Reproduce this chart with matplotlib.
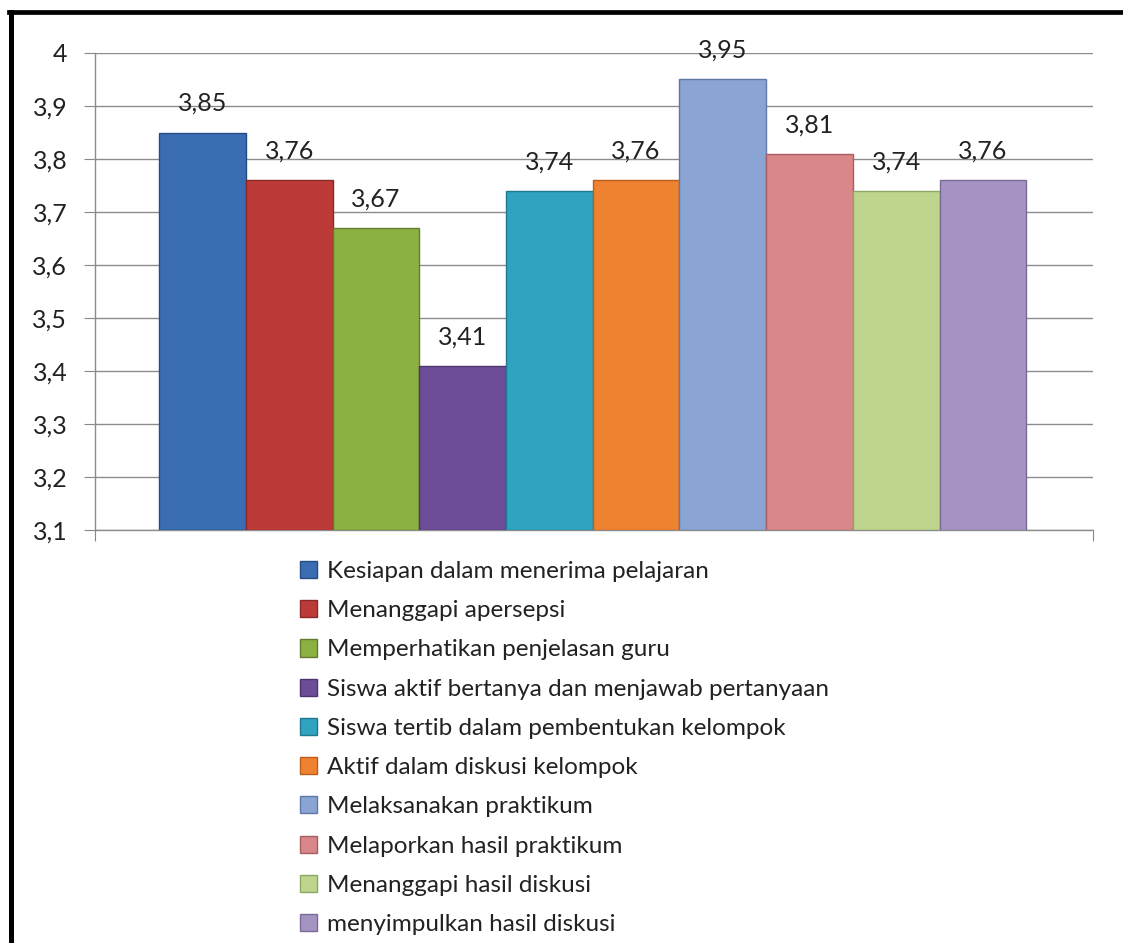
import matplotlib
matplotlib.use("Agg")
import matplotlib.pyplot as plt
import matplotlib.patches as mpatches
from matplotlib.lines import Line2D
from matplotlib.ticker import FuncFormatter

# ── data ──────────────────────────────────────────────────────────────────
categories = [
    "Kesiapan dalam menerima pelajaran",
    "Menanggapi apersepsi",
    "Memperhatikan penjelasan guru",
    "Siswa aktif bertanya dan menjawab pertanyaan",
    "Siswa tertib dalam pembentukan kelompok",
    "Aktif dalam diskusi kelompok",
    "Melaksanakan praktikum",
    "Melaporkan hasil praktikum",
    "Menanggapi hasil diskusi",
    "menyimpulkan hasil diskusi",
]
values = [3.85, 3.76, 3.67, 3.41, 3.74, 3.76, 3.95, 3.81, 3.74, 3.76]
y_ticks = [3.1, 3.2, 3.3, 3.4, 3.5, 3.6, 3.7, 3.8, 3.9, 4.0]

colors = ['#3A6DB2', '#BC3B39', '#8DB043', '#6D4D98', '#30A3C0',
          '#EE8230', '#8AA5D4', '#D98789', '#BDD58C', '#A593C2']
edges = ['#254D85', '#8A2826', '#627C2C', '#4B3470', '#1F7890',
         '#B85E1C', '#5F78A8', '#A85E60', '#8EA866', '#7A6A98']

plt.rcParams['font.family'] = ['Lato', 'DejaVu Sans']

W, H = 1123, 943
fig = plt.figure(figsize=(W / 100, H / 100), dpi=100)
fig.patch.set_facecolor('white')

ax = fig.add_axes([95 / W, 1 - 530 / H, (1093 - 95) / W, (530 - 53) / H])

base = y_ticks[0]
for i, v in enumerate(values):
    ax.bar(i, v - base, bottom=base, width=1.0, color=colors[i],
           edgecolor=edges[i], linewidth=1.0, zorder=3)
    ax.text(i, v + 0.033, f"{v:.2f}".replace('.', ','), ha='center',
            va='bottom', fontsize=18, color='#222222', zorder=4)

ax.set_ylim(3.1, 4.0)
ax.set_xlim(-1.24, 10.27)
ax.set_yticks(y_ticks)
ax.yaxis.set_major_formatter(FuncFormatter(lambda v, p: f"{v:g}".replace('.', ',')))
ax.set_xticks([-1.24, 10.27])
ax.set_xticklabels([])
ax.tick_params(axis='y', length=8, color='#888888', labelsize=18,
               labelcolor='#222222', pad=12)
ax.tick_params(axis='x', length=8, color='#888888')
ax.grid(axis='y', color='#8c8c8c', linewidth=1.0, zorder=0)
for s in ['top', 'right']:
    ax.spines[s].set_visible(False)
for s in ['left', 'bottom']:
    ax.spines[s].set_color('#8c8c8c')
    ax.spines[s].set_linewidth(1.0)

# ── legend ────────────────────────────────────────────────────────────────
handles = [mpatches.Patch(facecolor=colors[i], edgecolor=edges[i],
                          label=categories[i]) for i in range(len(categories))]
fig.legend(handles=handles, loc='upper left',
           bbox_to_anchor=(300 / W, 1 - 561 / H), frameon=False,
           fontsize=17.5, handlelength=0.7, handleheight=0.7,
           handletextpad=0.4, labelspacing=0.75, borderpad=0,
           borderaxespad=0, labelcolor='#222222')

# ── outer black frame (top and left visible) ──────────────────────────────
fig.add_artist(Line2D([10.5 / W, 10.5 / W], [0, 1 - 12 / H],
                      color='black', linewidth=3.6, transform=fig.transFigure))
fig.add_artist(Line2D([8.8 / W, 1], [1 - 12 / H, 1 - 12 / H],
                      color='black', linewidth=3.4, transform=fig.transFigure))

fig.savefig("out.png", dpi=100, facecolor='white')
